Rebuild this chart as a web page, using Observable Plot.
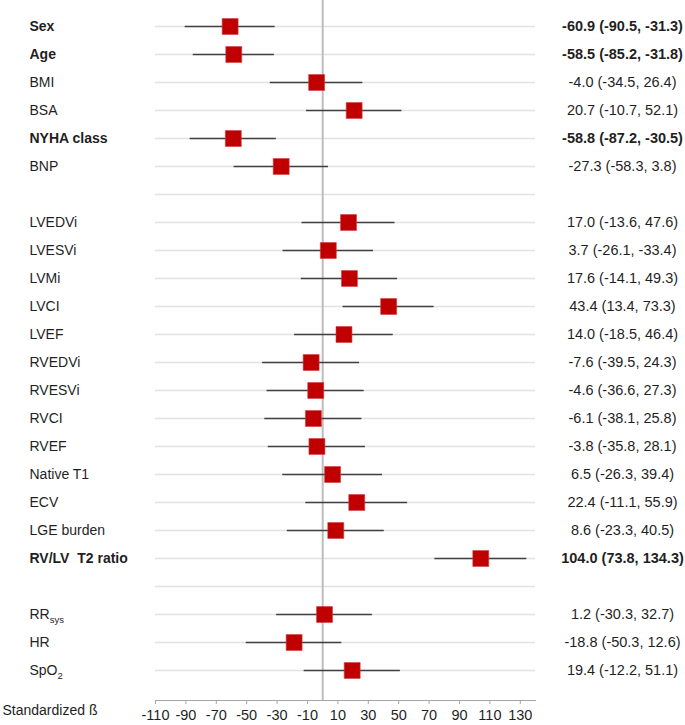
<!DOCTYPE html>
<html>
<head>
<meta charset="utf-8">
<script src="https://cdn.jsdelivr.net/npm/d3@7"></script>
<script src="https://cdn.jsdelivr.net/npm/@observablehq/plot@0.6"></script>
<style>
  html, body { margin: 0; padding: 0; background: #fff; }
</style>
</head>
<body>
<div id="chart"></div>
<script>
const labels = ["Sex","Age","BMI","BSA","NYHA class","BNP","",
  "LVEDVi","LVESVi","LVMi","LVCI","LVEF","RVEDVi","RVESVi","RVCI","RVEF","Native T1","ECV","LGE burden","RV/LV\u00a0 T2 ratio","",
  "RR","HR","SpO"];
const subscripts = ["","","","","","","","","","","","","","","","","","","","","","sys","","2"];
const beta  = [-60.9,-58.5,-4.0,20.7,-58.8,-27.3,null,17.0,3.7,17.6,43.4,14.0,-7.6,-4.6,-6.1,-3.8,6.5,22.4,8.6,104.0,null,1.2,-18.8,19.4];
const lower = [-90.5,-85.2,-34.5,-10.7,-87.2,-58.3,null,-13.6,-26.1,-14.1,13.4,-18.5,-39.5,-36.6,-38.1,-35.8,-26.3,-11.1,-23.3,73.8,null,-30.3,-50.3,-12.2];
const upper = [-31.3,-31.8,26.4,52.1,-30.5,3.8,null,47.6,33.4,49.3,73.3,46.4,24.3,27.3,25.8,28.1,39.4,55.9,40.5,134.3,null,32.7,12.6,51.1];
const ciText = ["-60.9 (-90.5, -31.3)","-58.5 (-85.2, -31.8)","-4.0 (-34.5, 26.4)","20.7 (-10.7, 52.1)","-58.8 (-87.2, -30.5)","-27.3 (-58.3, 3.8)","",
  "17.0 (-13.6, 47.6)","3.7 (-26.1, -33.4)","17.6 (-14.1, 49.3)","43.4 (13.4, 73.3)","14.0 (-18.5, 46.4)","-7.6 (-39.5, 24.3)","-4.6 (-36.6, 27.3)","-6.1 (-38.1, 25.8)","-3.8 (-35.8, 28.1)","6.5 (-26.3, 39.4)","22.4 (-11.1, 55.9)","8.6 (-23.3, 40.5)","104.0 (73.8, 134.3)","",
  "1.2 (-30.3, 32.7)","-18.8 (-50.3, 12.6)","19.4 (-12.2, 51.1)"];
const bold = [1,1,0,0,1,0,0, 0,0,0,0,0,0,0,0,0,0,0,0,1,0, 0,0,0];
const xTicks = [-110,-90,-70,-50,-30,-10,10,30,50,70,90,110,130];
const xDomain = [-110, 140];
const axisTitle = "Standardized ß";

const rows = labels.map((label, i) => ({
  i, label, sub: subscripts[i], beta: beta[i], lower: lower[i], upper: upper[i],
  ci: ciText[i], bold: bold[i] === 1
}));
const est = rows.filter(d => d.beta !== null);

const textColor = "#1f1f1f";

const chart = Plot.plot({
  width: 685,
  height: 725,
  marginLeft: 155,
  marginRight: 150,
  marginTop: 0,
  marginBottom: 25,
  style: { fontFamily: "'Liberation Sans', Arial, sans-serif", fontSize: "14px", color: textColor, background: "#fff" },
  x: { domain: xDomain, axis: null },
  y: { type: "point", domain: rows.map(d => d.i), range: [26, 670], padding: 0, axis: null },
  marks: [
    Plot.ruleY(rows, { y: "i", stroke: "#e2e2e2", strokeWidth: 1.6 }),
    Plot.ruleX([0], { stroke: "#bdbdbd", strokeWidth: 2 }),
    Plot.ruleY(est, { y: "i", x1: "lower", x2: "upper", stroke: "#404040", strokeWidth: 1.5 }),
    Plot.dot(est, { x: "beta", y: "i", symbol: "square", r: 9, fill: "#c00000", stroke: "#d23a3a", strokeWidth: 0.6 }),
    Plot.text(rows.filter(d => !d.bold), { y: "i", text: "label", frameAnchor: "left", dx: -126, textAnchor: "start", fill: textColor, fontSize: 14 }),
    Plot.text(rows.filter(d => d.bold), { y: "i", text: "label", frameAnchor: "left", dx: -126, textAnchor: "start", fill: textColor, fontSize: 14, fontWeight: "bold" }),
    Plot.text(rows.filter(d => !d.bold), { y: "i", text: "ci", frameAnchor: "right", dx: 87, textAnchor: "middle", fill: textColor, fontSize: 14.5 }),
    Plot.text(rows.filter(d => d.bold), { y: "i", text: "ci", frameAnchor: "right", dx: 87, textAnchor: "middle", fill: textColor, fontSize: 14.5, fontWeight: "bold" }),
    Plot.axisX({ ticks: xTicks, tickSize: 4, tickPadding: 5, stroke: "#a6a6a6", fill: textColor, fontSize: 14.5, tickFormat: d => String(d) }),
    Plot.frame({ anchor: "bottom", stroke: "#a6a6a6", strokeWidth: 1.2 }),
    Plot.text([axisTitle], { text: d => d, frameAnchor: "bottom-left", dx: -153, dy: 14, textAnchor: "start", fill: textColor, fontSize: 14 })
  ]
});

// add subscripts as real tspans
const subMap = new Map(rows.filter(d => d.sub).map(d => [d.label, d.sub]));
chart.querySelectorAll("text").forEach(t => {
  const s = subMap.get(t.textContent);
  if (s) {
    const ts = document.createElementNS("http://www.w3.org/2000/svg", "tspan");
    ts.setAttribute("font-size", "9.5");
    ts.setAttribute("dy", "4");
    ts.textContent = s;
    t.appendChild(ts);
  }
});

document.getElementById("chart").appendChild(chart);
</script>
</body>
</html>
